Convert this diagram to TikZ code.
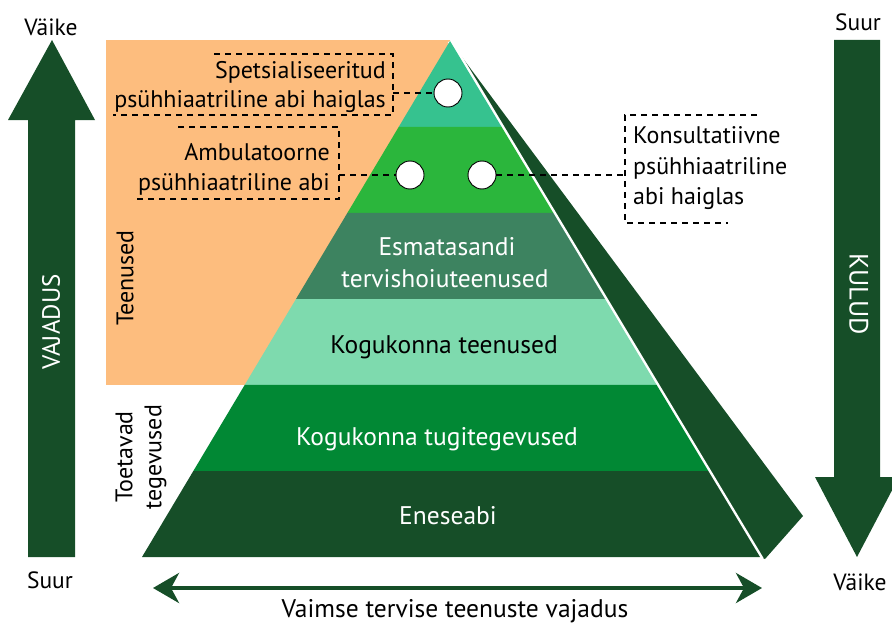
\documentclass[tikz,border=0pt]{standalone}
\usepackage{fontspec}
\setmainfont{PT Sans}
\usetikzlibrary{calc,arrows.meta}

\definecolor{orangebg}{HTML}{FDBD7E}
\definecolor{darkgreen}{HTML}{164E28}
\definecolor{layA}{HTML}{36C28F}
\definecolor{layB}{HTML}{2BB63C}
\definecolor{layC}{HTML}{3D8360}
\definecolor{layD}{HTML}{7EDAAE}
\definecolor{layE}{HTML}{018834}
\definecolor{layF}{HTML}{164E28}

\tikzset{
  lbl/.style={font=\fontsize{24}{29}\selectfont, inner sep=0pt},
  laylbl/.style={font=\fontsize{25.5}{30}\selectfont, inner sep=0pt, anchor=base},
  side/.style={font=\fontsize{23.5}{28}\selectfont, inner sep=0pt},
  dashbox/.style={dash pattern=on 6pt off 5pt, line width=1.4pt},
  spot/.style={circle, draw=black, line width=0.9pt, fill=white,
    minimum size=28pt, inner sep=0pt},
  bigarrow/.style={{Stealth[length=26pt,width=30pt,inset=8pt]}-{Stealth[length=26pt,width=30pt,inset=8pt]},
    darkgreen, line width=4pt},
}

\begin{document}
\begin{tikzpicture}[x=1pt,y=-1pt]
  \useasboundingbox (0,0) rectangle (892,626);

  % 1. Define points
  \coordinate (A) at (450,41);
  \coordinate (BL) at (142,557);
  \coordinate (BR) at (760,557);

  % 2. Background box and side face
  \fill[orangebg] (106,40) rectangle (450,385);
  \fill[darkgreen] (A) -- (803,516) -- (765,559) -- (BR) -- cycle;
  \draw[white, line width=5pt] (A) -- ($(A)!1.005!(BR)$);

  % 3. Layers of the pyramid
  \foreach \col [count=\i from 0] in {layA,layB,layC,layD,layE,layF} {
    \pgfmathsetmacro\ta{\i/6}
    \pgfmathsetmacro\tb{(\i+1)/6}
    \fill[\col] ($(A)!\ta!(BL)$) -- ($(A)!\tb!(BL)$) -- ($(A)!\tb!(BR)$) -- ($(A)!\ta!(BR)$) -- cycle;
  }

  \node[laylbl, white] (esm1) at (447,255) {Esmatasandi};
  \node[laylbl, white] (esm2) at (445,287) {tervishoiuteenused};
  \node[laylbl] (kog) at (444,353) {Kogukonna teenused};
  \node[laylbl, white] (tug) at (437,445) {Kogukonna tugitegevused};
  \node[laylbl, white] (ene) at (448,524) {Eneseabi};

  % 4. Circles
  \node[spot] (c1) at (448,93) {};
  \node[spot] (c2) at (410,175) {};
  \node[spot] (c3) at (482,175) {};

  % 5. Dashed boxes and their texts
  \node[lbl, anchor=base east] (spe1) at (386,79) {Spetsialiseeritud};
  \node[lbl, anchor=base east] (spe2) at (386,107) {psühhiaatriline abi haiglas};
  \draw[dashbox] (214,54) -- (393,54) -- (393,115) -- (113,115);

  \node[lbl, anchor=base east] (amb1) at (330,160) {Ambulatoorne};
  \node[lbl, anchor=base east] (amb2) at (330,190) {psühhiaatriline abi};
  \draw[dashbox] (178,127) -- (339,127) -- (339,199) -- (134,199);

  \node[lbl, anchor=base west] (kon1) at (633,143) {Konsultatiivne};
  \node[lbl, anchor=base west] (kon2) at (633,174) {psühhiaatriline};
  \node[lbl, anchor=base west] (kon3) at (633,204) {abi haiglas};
  \draw[dashbox] (757,115) -- (625,115) -- (625,223) -- (728,223);

  \coordinate (f1) at (393,93);
  \coordinate (f2) at (339,175);
  \coordinate (f3) at (625,175);
  \draw[dashbox] (f1) -- (c1);
  \draw[dashbox] (f2) -- (c2);
  \draw[dashbox] (c3) -- (f3);

  % 6. Side arrows
  \fill[darkgreen] (28,557) -- (28,120) -- (8,120) -- (52,40) -- (95,120) -- (75,120) -- (75,557) -- cycle;
  \fill[darkgreen] (834,40) -- (834,477) -- (815,477) -- (857,557) -- (899,477) -- (880,477) -- (880,40) -- cycle;
  \node[white, rotate=90, font=\fontsize{25}{30}\selectfont, inner sep=0pt] (vaj) at (51,322) {VAJADUS};
  \node[white, rotate=-90, font=\fontsize{26.5}{30}\selectfont, inner sep=0pt] (kul) at (859,294) {KULUD};
  \node[side] (vai1) at (51,27) {Väike};
  \node[side] (suu1) at (50,580) {Suur};
  \node[side] (suu2) at (858,22) {Suur};
  \node[side] (vai2) at (860,582) {Väike};

  % 7. Group labels
  \node[lbl, rotate=90] (tee) at (125,278) {Teenused};
  \node[lbl, rotate=90, align=center] (toe) at (141,457) {Toetavad\\tegevused};

  % 8. Bottom arrow
  \coordinate (bl) at (153,588);
  \coordinate (br) at (762,588);
  \draw[bigarrow] (bl) -- (br);
  \node[font=\fontsize{25.5}{30}\selectfont, inner sep=0pt] (vtv) at (455,611) {Vaimse tervise teenuste vajadus};
\end{tikzpicture}
\end{document}
